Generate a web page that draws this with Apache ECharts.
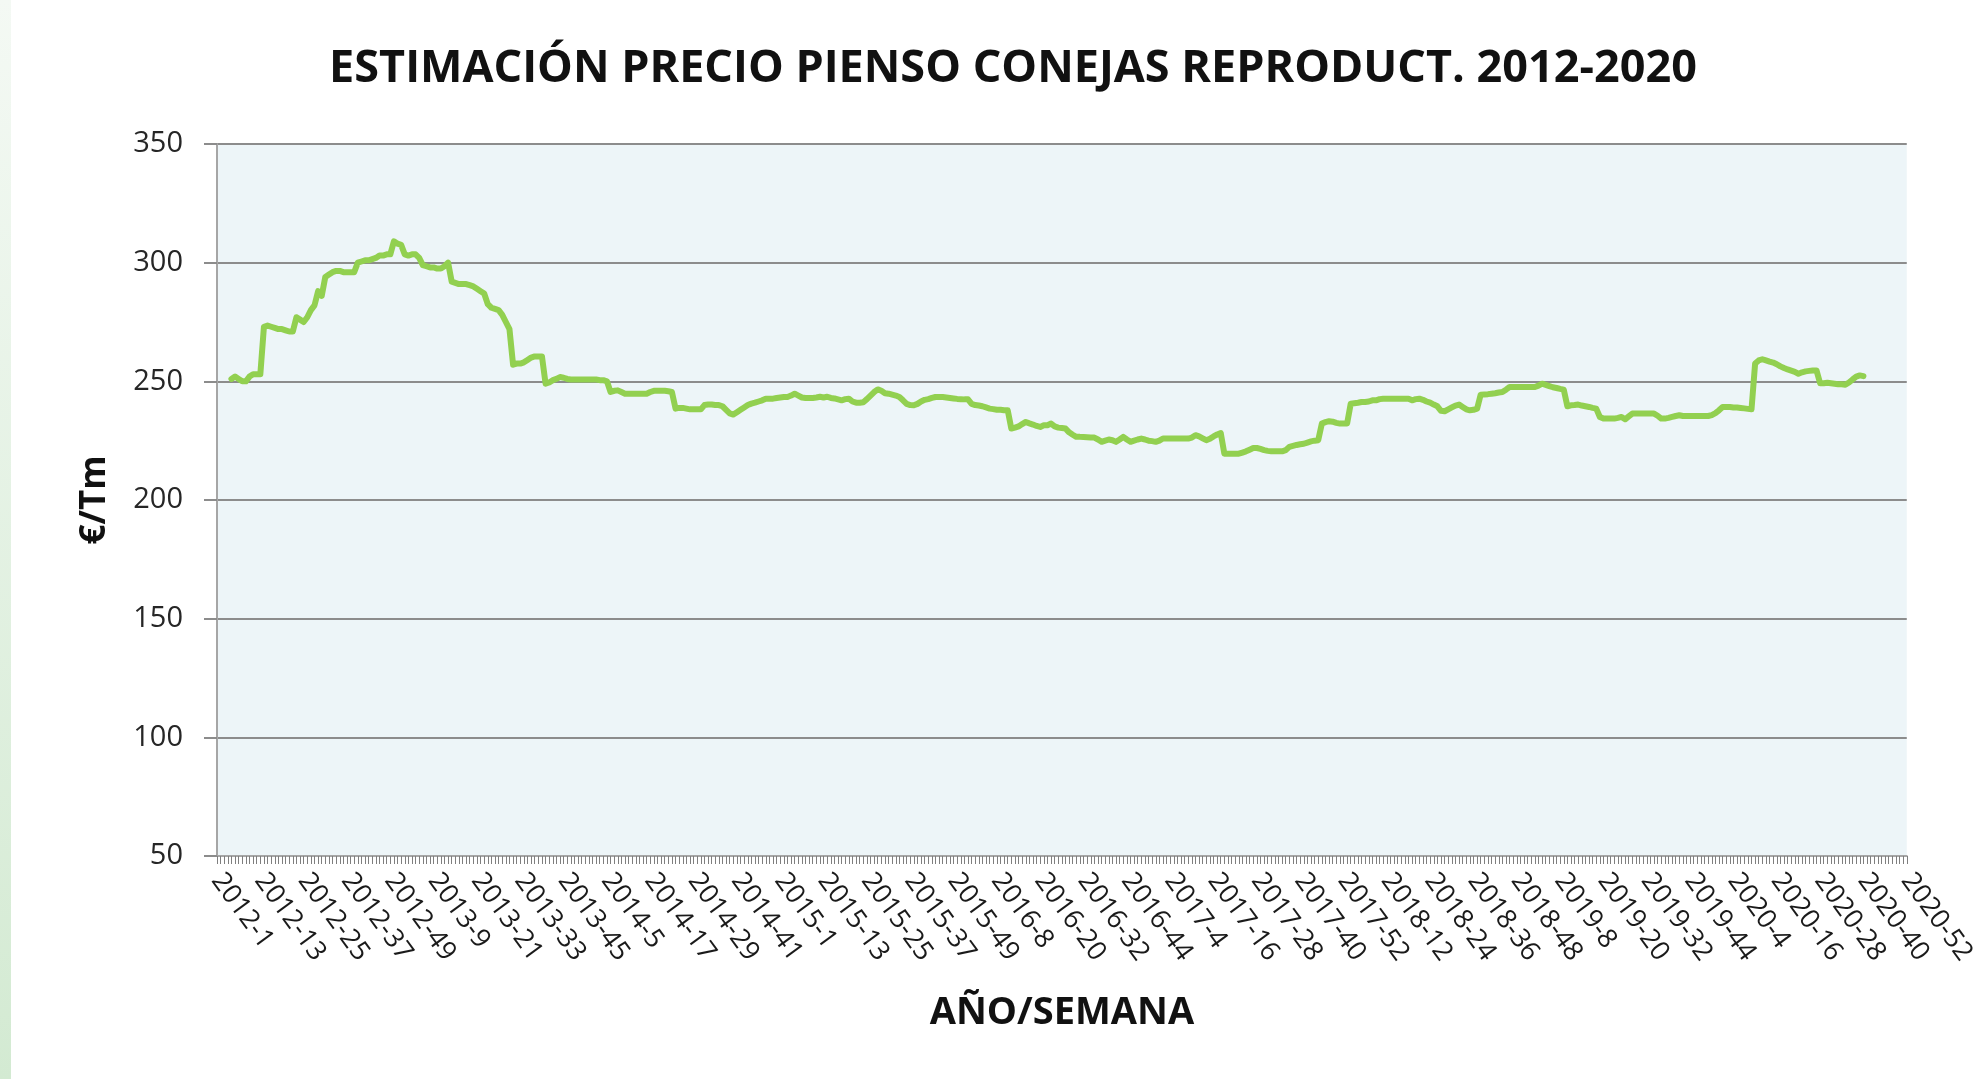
<!DOCTYPE html>
<html>
<head>
<meta charset="utf-8">
<script src="https://cdn.jsdelivr.net/npm/echarts@6/dist/echarts.min.js"></script>
<style>
  html, body { margin: 0; padding: 0; background: #ffffff; }
  #chart { width: 1979px; height: 1079px; }
</style>
</head>
<body>
<div id="chart"></div>
<script>
// weeks per year shown on the category axis
const years = [2012, 2013, 2014, 2015, 2016, 2017, 2018, 2019, 2020];
const weeksPerYear = [52, 52, 52, 53, 52, 52, 52, 52, 52];

// €/Tm, one value per week
const p2012 = [null, null, null, null,
  251, 252, 251, 250, 250, 252, 253, 253, 253,
  273, 273.5, 273, 272.5, 272, 272, 271.5, 271, 271,
  277, 276, 275, 277, 280, 282, 288, 286, 294,
  295, 296, 296.5, 296.5, 296, 296, 296, 296,
  300, 300.5, 301, 301, 301.5, 302, 303, 303, 303.5, 303.5,
  309, 308, 307.5];
const p2013 = [303.5, 303, 303.5, 303.5, 302, 299, 298.5, 298, 298, 297.5, 297.5, 298.5, 300,
  292, 291.5, 291, 291, 291, 290.5, 290, 289, 288, 287,
  282.5, 281, 280.5, 280, 278, 275, 272,
  257, 257.5, 257.5, 258, 259, 260, 260.5, 260.5, 260.5,
  249, 249.5, 250.5, 251, 251.8, 251.5, 251, 250.8, 250.8, 250.8, 250.8, 250.8, 250.8];
const p2014 = [250.8, 250.8, 250.5, 250.5, 250,
  245.5, 246, 246.2, 245.5, 244.8,
  244.8, 244.8, 244.8, 244.8, 244.8, 244.8,
  245.5, 246, 246, 246, 246, 245.8, 245.5,
  238.5, 238.8, 238.8, 238.5, 238.2, 238.2, 238.2, 238.2,
  240, 240.2, 240.2, 240, 240, 239.5,
  238, 236.5, 236, 237, 238, 239, 240,
  240.6, 241, 241.5, 242, 242.7, 242.7, 242.7, 243];
const p2015 = [243.2, 243.4, 243.4, 244, 244.8, 244, 243.2, 243, 243, 243,
  243.2, 243.5, 243.2, 243.5, 243, 242.8, 242.4, 242, 242.5, 242.7,
  241.5, 241, 241, 241.2, 242.5, 244, 245.5, 246.6, 246, 245,
  244.8, 244.4, 244, 243.4, 242, 240.5, 240, 239.9, 240.5, 241.5,
  242.2, 242.5, 243, 243.4, 243.4, 243.4, 243.2, 243, 242.8, 242.6, 242.5, 242.4, 242.4];
const p2016 = [240.5, 240, 239.8, 239.5, 239, 238.5, 238.3, 238, 238, 237.8, 237.8,
  230.1, 230.5, 231, 232, 232.9, 232.3, 231.8, 231.2, 230.8, 231.5, 231.5,
  232.2, 231, 230.5, 230.3, 230.1, 228.5, 227.5, 226.6, 226.6, 226.5,
  226.4, 226.3, 226.3, 225.5, 224.5, 225, 225.5, 225.2, 224.5, 225.5,
  226.6, 225.5, 224.5, 225, 225.5, 225.9, 225.5, 225, 224.8, 224.5];
const p2017 = [225, 225.9, 225.9, 225.9, 225.9, 225.9, 225.9, 225.9, 225.9, 226.3,
  227.3, 226.8, 226, 225.2, 225.8, 226.8, 227.6, 228.2,
  219.5, 219.5, 219.5, 219.5, 219.5, 220, 220.5, 221.2, 221.9, 221.9,
  221.5, 221, 220.7, 220.5, 220.5, 220.5, 220.5, 221, 222.4, 222.8,
  223.2, 223.5, 223.7, 224.2, 224.7, 225, 225.2,
  232.2, 232.8, 233.2, 233, 232.5, 232.2, 232.2];
const p2018 = [232.2, 240.6, 240.8, 241, 241.3, 241.3, 241.5, 242, 242, 242.5,
  242.7, 242.7, 242.7, 242.7, 242.7, 242.7, 242.7, 242.7, 242, 242.5,
  242.7, 242.2, 241.5, 241, 240.2, 239.5, 237.6, 237.4, 238.2, 239,
  239.8, 240.2, 239.2, 238.2, 237.8, 238, 238.5,
  244.4, 244.5, 244.6, 244.8, 245, 245.3, 245.5, 246.5, 247.6,
  247.6, 247.6, 247.6, 247.6, 247.6, 247.6];
const p2019 = [247.6, 248.2, 249, 248.5, 248, 247.5, 247.2, 246.8, 246.5,
  239.5, 239.9, 240, 240.2, 239.8, 239.5, 239.2, 238.8, 238.5,
  235, 234.3, 234.3, 234.3, 234.3, 234.6, 235, 234, 235.2, 236.4,
  236.4, 236.4, 236.4, 236.4, 236.4, 236.4,
  235.5, 234.3, 234.3, 234.6, 235, 235.4, 235.7, 235.4, 235.4,
  235.4, 235.4, 235.4, 235.4, 235.4, 235.4,
  235.8, 236.6, 237.8];
const p2020 = [239.2, 239.2, 239.2, 239, 239, 238.8, 238.6, 238.4, 238.2,
  257.5, 258.8, 259.3, 258.8, 258.3, 257.9, 257.2, 256.3, 255.6, 255,
  254.5, 254, 253.2, 253.8, 254.2, 254.4, 254.6, 254.6,
  249.2, 249.2, 249.4, 249.2, 249, 248.8, 248.8, 248.6,
  249.5, 250.8, 252, 252.5, 252.2];

const yTicks = [50, 100, 150, 200, 250, 300, 350];

const categories = [];
years.forEach((y, k) => {
  for (let w = 1; w <= weeksPerYear[k]; w++) categories.push(y + "-" + w);
});
const prices = [].concat(p2012, p2013, p2014, p2015, p2016, p2017, p2018, p2019, p2020);

const chart = echarts.init(document.getElementById("chart"));

const option = {
  backgroundColor: "#ffffff",
  animation: false,
  title: {
    text: "ESTIMACIÓN PRECIO PIENSO CONEJAS REPRODUCT. 2012-2020",
    left: 1008,
    top: 42,
    textAlign: "center",
    textStyle: {
      fontFamily: "Open Sans",
      fontWeight: "bold",
      fontSize: 45,
      color: "#111111",
    },
  },
  graphic: [
    {
      type: "rect",
      left: 0,
      top: 0,
      shape: { width: 11, height: 1079 },
      style: {
        fill: new echarts.graphic.LinearGradient(0, 0, 0, 1, [
          { offset: 0, color: "#f4f9f4" },
          { offset: 1, color: "#d3ead2" },
        ]),
      },
      silent: true,
    },
  ],
  grid: {
    left: 217,
    right: 68,
    top: 144,
    bottom: 223,
    show: true,
    backgroundColor: "#edf5f8",
    borderWidth: 0,
  },
  xAxis: {
    type: "category",
    data: categories,
    boundaryGap: false,
    name: "AÑO/SEMANA",
    nameLocation: "middle",
    nameGap: 138,
    nameTextStyle: {
      fontFamily: "Open Sans",
      fontWeight: "bold",
      fontSize: 38,
      color: "#111111",
    },
    axisLine: { show: true, lineStyle: { color: "#a6a6a6", width: 2 } },
    axisTick: {
      show: true,
      interval: 0,
      length: 8,
      lineStyle: { color: "#7f7f7f", width: 1 },
    },
    axisLabel: {
      interval: 11,
      rotate: -54,
      margin: 20,
      fontFamily: "Open Sans",
      fontSize: 27,
      color: "#1a1a1a",
    },
    splitLine: { show: false },
  },
  yAxis: {
    type: "value",
    min: 50,
    max: 350,
    interval: 50,
    name: "€/Tm",
    nameLocation: "middle",
    nameGap: 104,
    nameTextStyle: {
      fontFamily: "Open Sans",
      fontWeight: "bold",
      fontSize: 35,
      color: "#111111",
    },
    axisLine: { show: true, lineStyle: { color: "#a6a6a6", width: 2 } },
    axisTick: { show: true, length: 13, lineStyle: { color: "#8c8c8c", width: 2 } },
    axisLabel: {
      margin: 34,
      fontFamily: "Open Sans",
      fontSize: 29,
      color: "#262626",
      formatter: (v) => (yTicks.includes(v) ? String(v) : ""),
    },
    splitLine: { show: true, lineStyle: { color: "#8c8c8c", width: 2 } },
  },
  series: [
    {
      name: "€/Tm",
      type: "line",
      data: prices,
      showSymbol: false,
      symbol: "none",
      connectNulls: false,
      lineStyle: { color: "#92d050", width: 6, cap: "round", join: "round" },
      itemStyle: { color: "#92d050" },
    },
  ],
};

chart.setOption(option);
window.addEventListener("resize", chart.resize);
</script>
</body>
</html>
